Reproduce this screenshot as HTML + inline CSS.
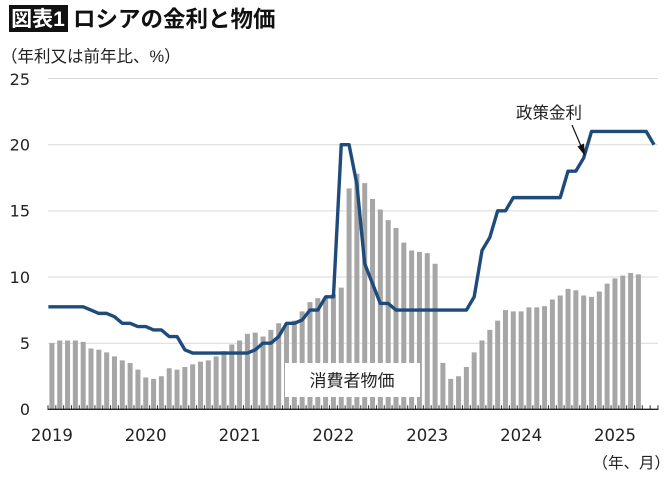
<!DOCTYPE html>
<html><head><meta charset="utf-8"><style>
html,body{margin:0;padding:0;background:#fff;}
svg{display:block;}
.cjk{font-family:"Liberation Sans","Noto Sans CJK JP",sans-serif;}
.num{font-family:"DejaVu Sans","Liberation Sans",sans-serif;fill:#222;}
</style></head><body>
<svg width="670" height="477" viewBox="0 0 670 477" xmlns="http://www.w3.org/2000/svg">
<rect width="670" height="477" fill="#fff"/>
<rect x="9" y="5" width="59" height="27" fill="#111"/>
<text x="38" y="26" class="cjk" font-size="21" font-weight="700" fill="#fff" text-anchor="middle">図表1</text>
<text x="73" y="27" class="cjk" font-size="22.5" font-weight="700" fill="#111">ロシアの金利と物価</text>
<text x="1" y="62" class="cjk" font-size="16.5" fill="#222">（年利又は前年比、%）</text>
<g stroke="#d9d9d9" stroke-width="1">
<line x1="48" y1="78.5" x2="658" y2="78.5"/>
<line x1="48" y1="144.7" x2="658" y2="144.7"/>
<line x1="48" y1="210.9" x2="658" y2="210.9"/>
<line x1="48" y1="277" x2="658" y2="277"/>
<line x1="48" y1="343.2" x2="658" y2="343.2"/>
</g>
<g class="num" font-size="16" text-anchor="end">
<text x="30" y="85">25</text>
<text x="30" y="150.5">20</text>
<text x="30" y="216.7">15</text>
<text x="30" y="282.8">10</text>
<text x="30" y="349">5</text>
<text x="30" y="415.1">0</text>
</g>
<g transform="translate(48,409.3) scale(7.82,-13.23)">
<path fill="#a6a6a6" d="M.18 0v5h.64V0
m.36 0v5.2h.64V0m.36 0v5.2h.64V0m.36 0v5.2h.64V0m.36 0v5.1h.64V0m.36 0v4.6h.64V0m.36 0v4.5h.64V0m.36 0v4.3h.64V0m.36 0v4h.64V0m.36 0v3.7h.64V0m.36 0v3.5h.64V0m.36 0v3h.64V0
m.36 0v2.4h.64V0m.36 0v2.3h.64V0m.36 0v2.5h.64V0m.36 0v3.1h.64V0m.36 0v3h.64V0m.36 0v3.2h.64V0m.36 0v3.4h.64V0m.36 0v3.6h.64V0m.36 0v3.7h.64V0m.36 0v4h.64V0m.36 0v4.4h.64V0m.36 0v4.9h.64V0
m.36 0v5.2h.64V0m.36 0v5.7h.64V0m.36 0v5.8h.64V0m.36 0v5.5h.64V0m.36 0v6h.64V0m.36 0v6.5h.64V0m.36 0v6.5h.64V0m.36 0v6.7h.64V0m.36 0v7.4h.64V0m.36 0v8.1h.64V0m.36 0v8.4h.64V0m.36 0v8.4h.64V0
m.36 0v8.7h.64V0m.36 0v9.2h.64V0m.36 0v16.7h.64V0m.36 0v17.8h.64V0m.36 0v17.1h.64V0m.36 0v15.9h.64V0m.36 0v15.1h.64V0m.36 0v14.3h.64V0m.36 0v13.7h.64V0m.36 0v12.6h.64V0m.36 0v12h.64V0m.36 0v11.9h.64V0
m.36 0v11.8h.64V0m.36 0v11h.64V0m.36 0v3.5h.64V0m.36 0v2.3h.64V0m.36 0v2.5h.64V0m.36 0v3.2h.64V0m.36 0v4.3h.64V0m.36 0v5.2h.64V0m.36 0v6h.64V0m.36 0v6.7h.64V0m.36 0v7.5h.64V0m.36 0v7.4h.64V0
m.36 0v7.4h.64V0m.36 0v7.7h.64V0m.36 0v7.7h.64V0m.36 0v7.8h.64V0m.36 0v8.3h.64V0m.36 0v8.6h.64V0m.36 0v9.1h.64V0m.36 0v9h.64V0m.36 0v8.6h.64V0m.36 0v8.5h.64V0m.36 0v8.9h.64V0m.36 0v9.5h.64V0
m.36 0v9.9h.64V0m.36 0v10.1h.64V0m.36 0v10.3h.64V0m.36 0v10.2h.64V0z"/>
<polyline fill="none" stroke="#1f4b7b" stroke-width="3.4" stroke-linejoin="round" vector-effect="non-scaling-stroke" points="0.05,7.75 4.5,7.75 5.5,7.5 6.5,7.25 7.5,7.25 8.5,7 9.5,6.5 10.5,6.5 11.5,6.25 12.5,6.25 13.5,6 14.5,6 15.5,5.5 16.5,5.5 17.5,4.5 18.5,4.25 25.5,4.25 26.5,4.5 27.5,5 28.5,5 29.5,5.5 30.5,6.5 31.5,6.5 32.5,6.75 33.5,7.5 34.5,7.5 35.5,8.5 36.5,8.5 37.5,20 38.5,20 39.5,17 40.5,11 41.5,9.5 42.5,8 43.5,8 44.5,7.5 53.5,7.5 54.5,8.5 55.5,12 56.5,13 57.5,15 58.5,15 59.5,16 65.5,16 66.5,18 67.5,18 68.5,19 69.5,21 76.5,21 77.5,20"/>
</g>
<line x1="47.5" y1="407.3" x2="659" y2="407.3" stroke="#333" stroke-width="4" stroke-dasharray="1 6.82"/>
<line x1="47.5" y1="409.3" x2="658.5" y2="409.3" stroke="#222" stroke-width="1.4"/>
<rect x="285" y="363" width="135" height="34" fill="#fff"/>
<text x="352" y="386.5" class="cjk" font-size="17" fill="#222" text-anchor="middle">消費者物価</text>
<text x="549" y="118.5" class="cjk" font-size="16.5" fill="#222" text-anchor="middle">政策金利</text>
<line x1="572" y1="125" x2="581" y2="146" stroke="#111" stroke-width="1.2"/>
<polygon points="585,156 577.5,146.5 584,143.5" fill="#111"/>
<g class="num" font-size="16.5" text-anchor="middle">
<text x="51.9" y="441">2019</text>
<text x="145.7" y="441">2020</text>
<text x="239.6" y="441">2021</text>
<text x="333.4" y="441">2022</text>
<text x="427.3" y="441">2023</text>
<text x="521.1" y="441">2024</text>
<text x="615" y="441">2025</text>
</g>
<text x="670" y="468" class="cjk" font-size="15.5" fill="#222" text-anchor="end">（年、月）</text>
</svg>
</body></html>
